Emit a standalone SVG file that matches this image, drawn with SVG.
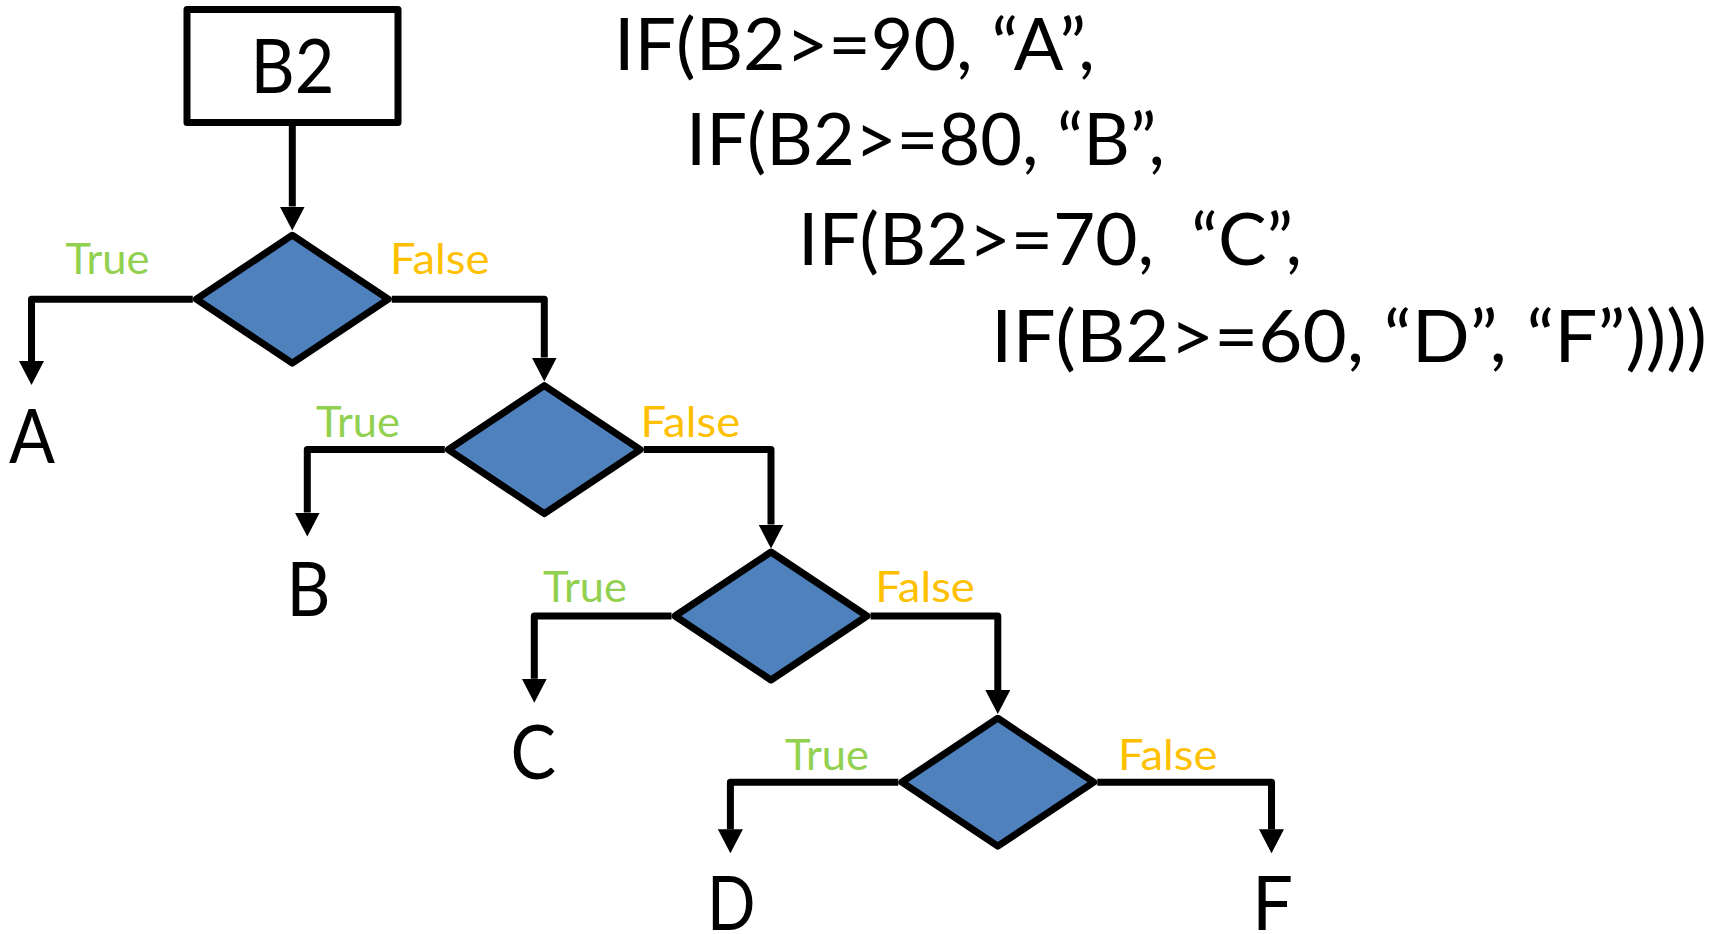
<svg xmlns="http://www.w3.org/2000/svg" width="1725" height="934" viewBox="0 0 1725 934">
  <defs>
    <style>
      .box{fill:#ffffff;stroke:#000000;stroke-width:7;stroke-linejoin:round}
      .dec{fill:#4F81BD;stroke:#000000;stroke-width:7;stroke-linejoin:round}
      .conn{fill:none;stroke:#000000;stroke-width:7;stroke-linejoin:round;marker-end:url(#arrow)}
      text{font-family:Lato,"Open Sans","Liberation Sans",sans-serif}
      .yes{fill:#92D050;font-size:43px}
      .no{fill:#FFC000;font-size:43px}
      .big{fill:#000000;font-size:75px}
      .code{fill:#000000;font-size:72px}
    </style>
    <marker id="arrow" markerUnits="userSpaceOnUse" viewBox="0 0 24 25" markerWidth="24" markerHeight="25" refX="0" refY="12.5" orient="auto">
      <path d="M0,0 L24,12.5 L0,25 Z" fill="#000000"/>
    </marker>
  </defs>

  <!-- input cell -->
  <g id="node-b2">
    <rect class="box" x="187" y="9.5" width="211" height="113"/>
    <text class="big" x="250.4" y="93.3" textLength="84" lengthAdjust="spacingAndGlyphs">B2</text>
  </g>

  <!-- decisions -->
  <g id="node-if90">
    <polygon class="dec" points="292.3,235.2 388.3,299.2 292.3,363.2 196.3,299.2"/>
  </g>
  <g id="node-if80">
    <polygon class="dec" points="544.3,385.6 640.3,449.6 544.3,513.6 448.3,449.6"/>
  </g>
  <g id="node-if70">
    <polygon class="dec" points="771,552 867,616 771,680 675,616"/>
  </g>
  <g id="node-if60">
    <polygon class="dec" points="997.8,718.2 1093.8,782.2 997.8,846.2 901.8,782.2"/>
  </g>

  <!-- grade results -->
  <g id="node-a"><text class="big" x="9" y="463.3" textLength="46" lengthAdjust="spacingAndGlyphs">A</text></g>
  <g id="node-b"><text class="big" x="286.5" y="616" textLength="44" lengthAdjust="spacingAndGlyphs">B</text></g>
  <g id="node-c"><text class="big" x="510.5" y="779" textLength="45.5" lengthAdjust="spacingAndGlyphs">C</text></g>
  <g id="node-d"><text class="big" x="707" y="930" textLength="48.5" lengthAdjust="spacingAndGlyphs">D</text></g>
  <g id="node-f"><text class="big" x="1252" y="930" textLength="41" lengthAdjust="spacingAndGlyphs">F</text></g>

  <!-- connectors -->
  <g id="connectors">
    <path class="conn" d="M292.3,122.5 V206.5"/>
    <path class="conn" d="M192.8,299.2 H31.5 V361"/>
    <path class="conn" d="M391.8,299.2 H544.3 V357.5"/>
    <path class="conn" d="M444.8,449.6 H307.3 V512.5"/>
    <path class="conn" d="M643.8,449.6 H771 V524.5"/>
    <path class="conn" d="M671.5,616 H534.3 V678.7"/>
    <path class="conn" d="M870.5,616 H997.8 V690"/>
    <path class="conn" d="M898.3,782.2 H730.4 V829.3"/>
    <path class="conn" d="M1097.3,782.2 H1271.5 V829.3"/>
  </g>

  <!-- branch labels -->
  <g id="labels">
    <text class="yes" x="65.5" y="274" textLength="84" lengthAdjust="spacingAndGlyphs">True</text>
    <text class="no" x="390" y="274" textLength="99.6" lengthAdjust="spacingAndGlyphs">False</text>
    <text class="yes" x="316" y="437" textLength="84" lengthAdjust="spacingAndGlyphs">True</text>
    <text class="no" x="640.6" y="437" textLength="99.6" lengthAdjust="spacingAndGlyphs">False</text>
    <text class="yes" x="543" y="602" textLength="84" lengthAdjust="spacingAndGlyphs">True</text>
    <text class="no" x="875.3" y="602" textLength="99.6" lengthAdjust="spacingAndGlyphs">False</text>
    <text class="yes" x="785" y="769.5" textLength="84" lengthAdjust="spacingAndGlyphs">True</text>
    <text class="no" x="1118" y="769.5" textLength="99.6" lengthAdjust="spacingAndGlyphs">False</text>
  </g>

  <!-- nested formula -->
  <g id="formula">
    <text class="code" x="614" y="70" textLength="481" lengthAdjust="spacingAndGlyphs">IF(B2&gt;=90, “A”,</text>
    <text class="code" x="686" y="165" textLength="479" lengthAdjust="spacingAndGlyphs">IF(B2&gt;=80, “B”,</text>
    <text class="code" x="798" y="265" textLength="504" lengthAdjust="spacingAndGlyphs" xml:space="preserve">IF(B2&gt;=70,  “C”,</text>
    <text class="code" x="991" y="362" textLength="716" lengthAdjust="spacingAndGlyphs">IF(B2&gt;=60, “D”, “F”))))</text>
  </g>
</svg>
